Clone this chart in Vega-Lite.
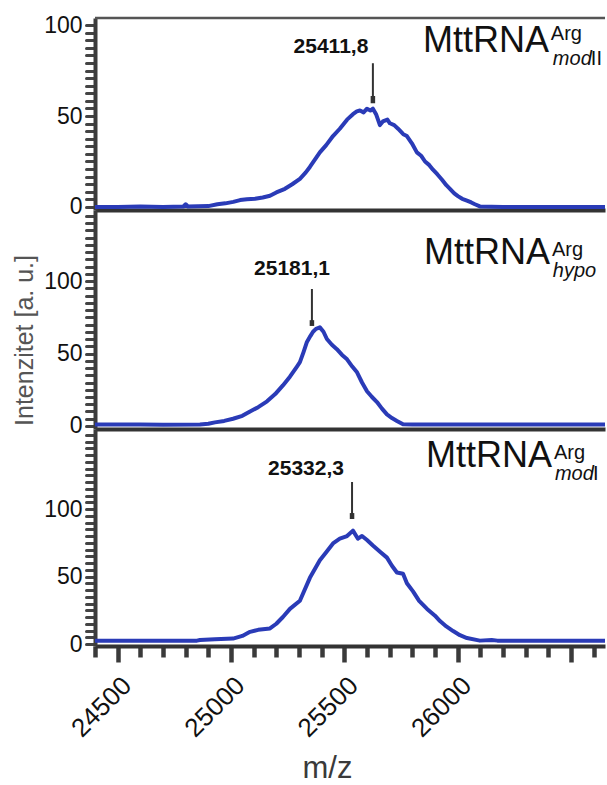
{
  "$schema": "https://vega.github.io/schema/vega-lite/v6.json",
  "padding": {"left": 12, "top": 14, "right": 0, "bottom": 0},
  "spacing": 0,
  "bounds": "flush",
  "config": {
    "view": {"stroke": null},
    "font": "Liberation Sans",
    "axis": {"grid": false, "labelFont": "Liberation Sans", "titleFont": "Liberation Sans", "tickCount": 200, "labelOverlap": false}
  },
  "datasets": {
    "top": [
      {"mz": 24400, "intensity": 0}, {"mz": 24500, "intensity": 0}, {"mz": 24600, "intensity": 0.3},
      {"mz": 24700, "intensity": 0}, {"mz": 24790, "intensity": 0.3}, {"mz": 24800, "intensity": 1.5},
      {"mz": 24810, "intensity": 0.3}, {"mz": 24900, "intensity": 0.5}, {"mz": 24940, "intensity": 1.5},
      {"mz": 24975, "intensity": 2}, {"mz": 25010, "intensity": 2.8}, {"mz": 25040, "intensity": 3.8},
      {"mz": 25070, "intensity": 4.2}, {"mz": 25106, "intensity": 4.5}, {"mz": 25140, "intensity": 5.2},
      {"mz": 25172, "intensity": 6.2}, {"mz": 25200, "intensity": 8}, {"mz": 25238, "intensity": 10},
      {"mz": 25270, "intensity": 12.5}, {"mz": 25304, "intensity": 15.5}, {"mz": 25330, "intensity": 19},
      {"mz": 25348, "intensity": 22}, {"mz": 25370, "intensity": 26}, {"mz": 25392, "intensity": 30},
      {"mz": 25420, "intensity": 34}, {"mz": 25450, "intensity": 39}, {"mz": 25480, "intensity": 43},
      {"mz": 25512, "intensity": 48}, {"mz": 25538, "intensity": 51}, {"mz": 25555, "intensity": 52.5},
      {"mz": 25569, "intensity": 53}, {"mz": 25585, "intensity": 52}, {"mz": 25600, "intensity": 54},
      {"mz": 25615, "intensity": 53}, {"mz": 25626, "intensity": 54}, {"mz": 25640, "intensity": 51},
      {"mz": 25657, "intensity": 45}, {"mz": 25670, "intensity": 47}, {"mz": 25690, "intensity": 48},
      {"mz": 25701, "intensity": 46}, {"mz": 25720, "intensity": 45}, {"mz": 25737, "intensity": 43},
      {"mz": 25760, "intensity": 40}, {"mz": 25776, "intensity": 39}, {"mz": 25798, "intensity": 35},
      {"mz": 25820, "intensity": 30}, {"mz": 25840, "intensity": 28}, {"mz": 25856, "intensity": 25},
      {"mz": 25875, "intensity": 23}, {"mz": 25891, "intensity": 20.5}, {"mz": 25910, "intensity": 18},
      {"mz": 25931, "intensity": 15}, {"mz": 25950, "intensity": 12}, {"mz": 25966, "intensity": 10},
      {"mz": 25985, "intensity": 7.5}, {"mz": 26001, "intensity": 6}, {"mz": 26020, "intensity": 4.5},
      {"mz": 26041, "intensity": 3.5}, {"mz": 26060, "intensity": 2.5}, {"mz": 26076, "intensity": 1.5},
      {"mz": 26098, "intensity": 0.3}, {"mz": 26200, "intensity": 0}, {"mz": 26400, "intensity": 0},
      {"mz": 26650, "intensity": 0}
    ],
    "middle": [
      {"mz": 24400, "intensity": 1}, {"mz": 24600, "intensity": 1}, {"mz": 24700, "intensity": 0.8},
      {"mz": 24863, "intensity": 1}, {"mz": 24900, "intensity": 1.5}, {"mz": 24929, "intensity": 2.5},
      {"mz": 24970, "intensity": 3.5}, {"mz": 25009, "intensity": 5}, {"mz": 25050, "intensity": 7},
      {"mz": 25084, "intensity": 10}, {"mz": 25120, "intensity": 13}, {"mz": 25159, "intensity": 17},
      {"mz": 25195, "intensity": 22}, {"mz": 25229, "intensity": 28}, {"mz": 25260, "intensity": 34},
      {"mz": 25291, "intensity": 41}, {"mz": 25304, "intensity": 44}, {"mz": 25320, "intensity": 51},
      {"mz": 25335, "intensity": 58}, {"mz": 25350, "intensity": 62}, {"mz": 25362, "intensity": 65},
      {"mz": 25375, "intensity": 67}, {"mz": 25392, "intensity": 68}, {"mz": 25408, "intensity": 65},
      {"mz": 25423, "intensity": 60}, {"mz": 25445, "intensity": 56}, {"mz": 25467, "intensity": 53},
      {"mz": 25490, "intensity": 49}, {"mz": 25512, "intensity": 46}, {"mz": 25535, "intensity": 41},
      {"mz": 25556, "intensity": 37}, {"mz": 25578, "intensity": 30}, {"mz": 25600, "intensity": 24},
      {"mz": 25622, "intensity": 20}, {"mz": 25644, "intensity": 16.5}, {"mz": 25666, "intensity": 12},
      {"mz": 25688, "intensity": 8}, {"mz": 25710, "intensity": 5.5}, {"mz": 25732, "intensity": 3.5},
      {"mz": 25759, "intensity": 1.2}, {"mz": 25800, "intensity": 1}, {"mz": 26000, "intensity": 1},
      {"mz": 26650, "intensity": 1}
    ],
    "bottom": [
      {"mz": 24400, "intensity": 2.5}, {"mz": 24600, "intensity": 2.5}, {"mz": 24850, "intensity": 2.5},
      {"mz": 24863, "intensity": 3}, {"mz": 24929, "intensity": 3.5}, {"mz": 25009, "intensity": 4},
      {"mz": 25050, "intensity": 6}, {"mz": 25084, "intensity": 9}, {"mz": 25120, "intensity": 10.5},
      {"mz": 25172, "intensity": 11.5}, {"mz": 25200, "intensity": 15}, {"mz": 25229, "intensity": 20},
      {"mz": 25260, "intensity": 26}, {"mz": 25304, "intensity": 32}, {"mz": 25348, "intensity": 49},
      {"mz": 25392, "intensity": 62}, {"mz": 25420, "intensity": 68}, {"mz": 25450, "intensity": 74.5},
      {"mz": 25480, "intensity": 78}, {"mz": 25512, "intensity": 80}, {"mz": 25538, "intensity": 84},
      {"mz": 25560, "intensity": 78}, {"mz": 25578, "intensity": 80}, {"mz": 25600, "intensity": 77},
      {"mz": 25626, "intensity": 73}, {"mz": 25660, "intensity": 68}, {"mz": 25688, "intensity": 64},
      {"mz": 25710, "intensity": 58}, {"mz": 25732, "intensity": 53}, {"mz": 25759, "intensity": 52},
      {"mz": 25776, "intensity": 45}, {"mz": 25803, "intensity": 39}, {"mz": 25830, "intensity": 32},
      {"mz": 25865, "intensity": 26}, {"mz": 25900, "intensity": 21}, {"mz": 25922, "intensity": 17},
      {"mz": 25950, "intensity": 13}, {"mz": 25980, "intensity": 9.6}, {"mz": 26010, "intensity": 6.5},
      {"mz": 26041, "intensity": 4.4}, {"mz": 26098, "intensity": 2.5}, {"mz": 26150, "intensity": 3},
      {"mz": 26175, "intensity": 2.5}, {"mz": 26650, "intensity": 2.5}
    ]
  },
  "vconcat": [
    {
      "width": 510,
      "height": 192,
      "layer": [
        {
          "data": {"name": "top"},
          "mark": {"type": "line", "color": "#2a3bb7", "strokeWidth": 4, "strokeJoin": "round"},
          "encoding": {
            "x": {"field": "mz", "type": "quantitative",
                  "scale": {"domain": [24400, 26650], "nice": false, "zero": false},
                  "axis": {"title": null, "labels": false, "ticks": false, "domainColor": "#333333", "domainWidth": 4}},
            "y": {"field": "intensity", "type": "quantitative",
                  "scale": {"domain": [-1.65, 103.85], "nice": false, "zero": false},
                  "axis": {"title": null, "format": "d",
                           "values": [0, 4.17, 8.33, 12.5, 16.67, 20.83, 25, 29.17, 33.33, 37.5, 41.67, 45.83, 50, 54.17, 58.33, 62.5, 66.67, 70.83, 75, 79.17, 83.33, 87.5, 91.67, 95.83, 100],
                           "labelExpr": "(datum.value == 0 || datum.value == 50 || datum.value == 100) ? datum.label : ''",
                           "labelFontSize": 23, "labelColor": "#111111", "labelPadding": 4,
                           "tickSize": 9, "tickWidth": 3, "tickColor": "#444444", "tickCap": "round",
                           "domainColor": "#3c3c3c", "domainWidth": 4}}
          }
        },
        {
          "data": {"values": [{}]},
          "mark": {"type": "rule", "color": "#555555", "strokeWidth": 2.5},
          "encoding": {"y": {"datum": 103.85}}
        },
        {
          "data": {"values": [{}]},
          "mark": {"type": "rule", "color": "#333333", "strokeWidth": 2},
          "encoding": {"x": {"datum": 25626}, "y": {"datum": 79}, "y2": {"datum": 58}}
        },
        {
          "data": {"values": [{}]},
          "mark": {"type": "rule", "color": "#333333", "strokeWidth": 4.5},
          "encoding": {"x": {"datum": 25626}, "y": {"datum": 61}, "y2": {"datum": 57}}
        },
        {
          "data": {"values": [{}]},
          "mark": {"type": "text", "fontSize": 21, "fontWeight": "bold", "color": "#111111", "align": "center", "baseline": "middle"},
          "encoding": {"x": {"datum": 25441}, "y": {"datum": 87.9}, "text": {"value": "25411,8"}}
        },
        {
          "data": {"values": [{}]},
          "mark": {"type": "text", "fontSize": 36, "color": "#111111", "align": "right", "baseline": "alphabetic"},
          "encoding": {"x": {"datum": 26403}, "y": {"datum": 85.2}, "text": {"value": "MttRNA"}}
        },
        {
          "data": {"values": [{}]},
          "mark": {"type": "text", "fontSize": 20, "color": "#111111", "align": "left", "baseline": "alphabetic"},
          "encoding": {"x": {"datum": 26411}, "y": {"datum": 91.8}, "text": {"value": "Arg"}}
        },
        {
          "data": {"values": [{}]},
          "mark": {"type": "text", "fontSize": 20, "fontStyle": "italic", "color": "#111111", "align": "left", "baseline": "alphabetic"},
          "encoding": {"x": {"datum": 26420}, "y": {"datum": 78}, "text": {"value": "mod"}}
        },
        {
          "data": {"values": [{}]},
          "mark": {"type": "text", "fontSize": 20, "color": "#111111", "align": "left", "baseline": "alphabetic", "dx": 38},
          "encoding": {"x": {"datum": 26420}, "y": {"datum": 78}, "text": {"value": "II"}}
        }
      ]
    },
    {
      "width": 510,
      "height": 219,
      "layer": [
        {
          "data": {"name": "middle"},
          "mark": {"type": "line", "color": "#2a3bb7", "strokeWidth": 4, "strokeJoin": "round"},
          "encoding": {
            "x": {"field": "mz", "type": "quantitative",
                  "scale": {"domain": [24400, 26650], "nice": false, "zero": false},
                  "axis": {"title": null, "labels": false, "ticks": false, "domainColor": "#333333", "domainWidth": 4}},
            "y": {"field": "intensity", "type": "quantitative",
                  "scale": {"domain": [-2.07, 148.97], "nice": false, "zero": false},
                  "axis": {"title": "Intenzitet [a. u.]", "format": "d",
                           "values": [0, 5, 10, 15, 20, 25, 30, 35, 40, 45, 50, 55, 60, 65, 70, 75, 80, 85, 90, 95, 100, 105, 110, 115, 120, 125, 130, 135, 140, 145],
                           "labelExpr": "(datum.value == 0 || datum.value == 50 || datum.value == 100) ? datum.label : ''",
                           "labelFontSize": 23, "labelColor": "#111111", "labelPadding": 4,
                           "tickSize": 9, "tickWidth": 3, "tickColor": "#444444", "tickCap": "round",
                           "domainColor": "#3c3c3c", "domainWidth": 4,
                           "titleFontSize": 25, "titleFontWeight": "normal", "titleColor": "#555555",
                           "titleAngle": 270, "titleAlign": "center", "titleBaseline": "middle",
                           "titleX": -71, "titleY": 130}}
          }
        },
        {
          "data": {"values": [{}]},
          "mark": {"type": "rule", "color": "#333333", "strokeWidth": 2},
          "encoding": {"x": {"datum": 25357}, "y": {"datum": 94.5}, "y2": {"datum": 70}}
        },
        {
          "data": {"values": [{}]},
          "mark": {"type": "rule", "color": "#333333", "strokeWidth": 4.5},
          "encoding": {"x": {"datum": 25357}, "y": {"datum": 73}, "y2": {"datum": 69}}
        },
        {
          "data": {"values": [{}]},
          "mark": {"type": "text", "fontSize": 21, "fontWeight": "bold", "color": "#111111", "align": "center", "baseline": "middle"},
          "encoding": {"x": {"datum": 25269}, "y": {"datum": 108.3}, "text": {"value": "25181,1"}}
        },
        {
          "data": {"values": [{}]},
          "mark": {"type": "text", "fontSize": 36, "color": "#111111", "align": "right", "baseline": "alphabetic"},
          "encoding": {"x": {"datum": 26407}, "y": {"datum": 111.7}, "text": {"value": "MttRNA"}}
        },
        {
          "data": {"values": [{}]},
          "mark": {"type": "text", "fontSize": 20, "color": "#111111", "align": "left", "baseline": "alphabetic"},
          "encoding": {"x": {"datum": 26416}, "y": {"datum": 117.2}, "text": {"value": "Arg"}}
        },
        {
          "data": {"values": [{}]},
          "mark": {"type": "text", "fontSize": 20, "fontStyle": "italic", "color": "#111111", "align": "left", "baseline": "alphabetic"},
          "encoding": {"x": {"datum": 26420}, "y": {"datum": 102.8}, "text": {"value": "hypo"}}
        }
      ]
    },
    {
      "width": 510,
      "height": 217,
      "layer": [
        {
          "data": {"name": "bottom"},
          "mark": {"type": "line", "color": "#2a3bb7", "strokeWidth": 4, "strokeJoin": "round"},
          "encoding": {
            "x": {"field": "mz", "type": "quantitative",
                  "scale": {"domain": [24400, 26650], "nice": false, "zero": false},
                  "axis": {"title": "m/z", "format": "d",
                           "values": [24400, 24500, 24600, 24700, 24800, 24900, 25000, 25100, 25200, 25300, 25400, 25500, 25600, 25700, 25800, 25900, 26000, 26100, 26200, 26300, 26400, 26500, 26600],
                           "labelExpr": "(datum.value % 500 === 0 && datum.value <= 26000) ? datum.label : ''",
                           "tickSize": {"condition": {"test": "datum.value % 500 === 0", "value": 16}, "value": 11},
                           "tickWidth": 4.5, "tickColor": "#3a3a3a",
                           "labelAngle": -45, "labelFontSize": 26, "labelColor": "#111111", "labelPadding": 10,
                           "domainColor": "#333333", "domainWidth": 4,
                           "titleFontSize": 31, "titleFontWeight": "normal", "titleColor": "#3a3a3a",
                           "titleX": 232, "titleY": 131, "titleBaseline": "alphabetic", "titleAlign": "center"}},
            "y": {"field": "intensity", "type": "quantitative",
                  "scale": {"domain": [-1.48, 159.26], "nice": false, "zero": false},
                  "axis": {"title": null, "format": "d",
                           "values": [0, 5, 10, 15, 20, 25, 30, 35, 40, 45, 50, 55, 60, 65, 70, 75, 80, 85, 90, 95, 100, 105, 110, 115, 120, 125, 130, 135, 140, 145, 150, 155],
                           "labelExpr": "(datum.value == 0 || datum.value == 50 || datum.value == 100) ? datum.label : ''",
                           "labelFontSize": 23, "labelColor": "#111111", "labelPadding": 4,
                           "tickSize": 9, "tickWidth": 3, "tickColor": "#444444", "tickCap": "round",
                           "domainColor": "#3c3c3c", "domainWidth": 4}}
          }
        },
        {
          "data": {"values": [{}]},
          "mark": {"type": "rule", "color": "#333333", "strokeWidth": 2},
          "encoding": {"x": {"datum": 25534}, "y": {"datum": 120}, "y2": {"datum": 95}}
        },
        {
          "data": {"values": [{}]},
          "mark": {"type": "rule", "color": "#333333", "strokeWidth": 4.5},
          "encoding": {"x": {"datum": 25534}, "y": {"datum": 97}, "y2": {"datum": 92.6}}
        },
        {
          "data": {"values": [{}]},
          "mark": {"type": "text", "fontSize": 21, "fontWeight": "bold", "color": "#111111", "align": "center", "baseline": "middle"},
          "encoding": {"x": {"datum": 25331}, "y": {"datum": 129.6}, "text": {"value": "25332,3"}}
        },
        {
          "data": {"values": [{}]},
          "mark": {"type": "text", "fontSize": 36, "color": "#111111", "align": "right", "baseline": "alphabetic"},
          "encoding": {"x": {"datum": 26416}, "y": {"datum": 131.1}, "text": {"value": "MttRNA"}}
        },
        {
          "data": {"values": [{}]},
          "mark": {"type": "text", "fontSize": 20, "color": "#111111", "align": "left", "baseline": "alphabetic"},
          "encoding": {"x": {"datum": 26425}, "y": {"datum": 137}, "text": {"value": "Arg"}}
        },
        {
          "data": {"values": [{}]},
          "mark": {"type": "text", "fontSize": 20, "fontStyle": "italic", "color": "#111111", "align": "left", "baseline": "alphabetic"},
          "encoding": {"x": {"datum": 26429}, "y": {"datum": 121.5}, "text": {"value": "mod"}}
        },
        {
          "data": {"values": [{}]},
          "mark": {"type": "text", "fontSize": 20, "color": "#111111", "align": "left", "baseline": "alphabetic", "dx": 38},
          "encoding": {"x": {"datum": 26429}, "y": {"datum": 121.5}, "text": {"value": "I"}}
        }
      ]
    }
  ]
}
